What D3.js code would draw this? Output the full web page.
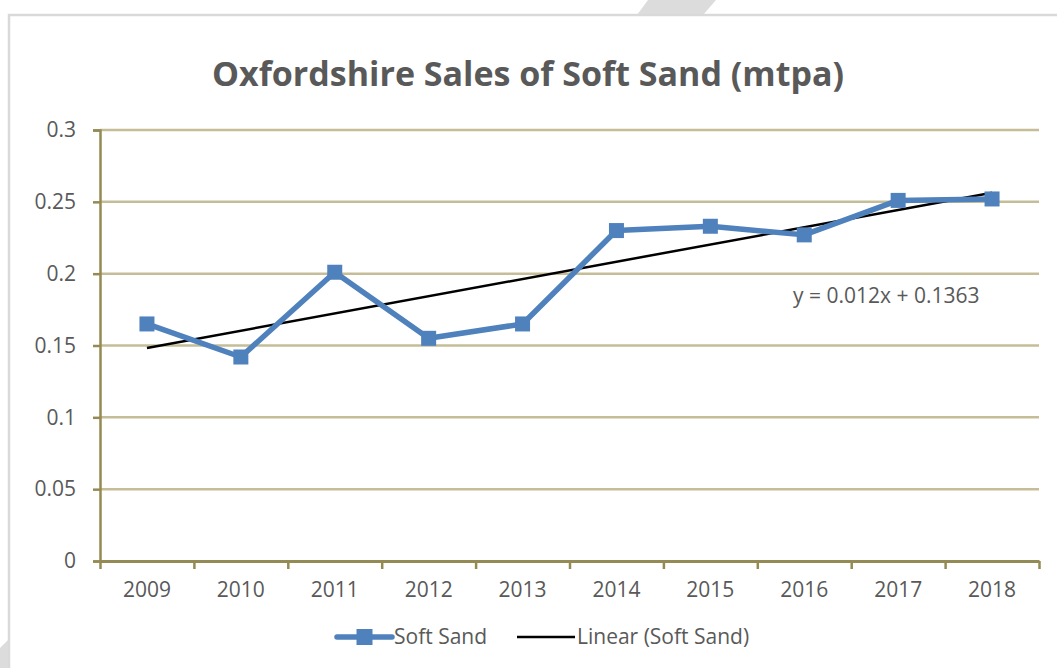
<!DOCTYPE html>
<html>
<head>
<meta charset="utf-8">
<script src="https://cdn.jsdelivr.net/npm/d3@7"></script>
<style>
  html, body { margin: 0; padding: 0; background: #fff; }
  svg { display: block; }
</style>
</head>
<body>
<div id="chart"></div>
<script>
// chart data
const years = ["2009", "2010", "2011", "2012", "2013", "2014", "2015", "2016", "2017", "2018"];
const softSand = [0.165, 0.142, 0.201, 0.155, 0.165, 0.230, 0.233, 0.227, 0.251, 0.252];
const yTicks = [0, 0.05, 0.1, 0.15, 0.2, 0.25, 0.3];
const trendSlope = 0.012;
const trendIntercept = 0.1363;
const trendLabel = "y = 0.012x + 0.1363";

const width = 1057;
const height = 668;
const margin = { top: 130, right: 18, bottom: 107, left: 100 };

const textColor = "#595959";
const gridColor = "#C4BD97";
const axisColor = "#948A54";
const lineColor = "#4F81BD";
const font = "'Open Sans', 'Liberation Sans', sans-serif";

const svg = d3.select("#chart").append("svg")
    .attr("width", width)
    .attr("height", height);

// page background bits outside the chart frame
svg.append("path")
    .attr("d", "M648,0 L716,0 L703,15 L637,15 Z")
    .attr("fill", "#dcdcdc");
svg.append("path")
    .attr("d", "M0,648 L8,640 L8,668 L0,668 Z")
    .attr("fill", "#dcdcdc");

// chart frame
svg.append("rect")
    .attr("x", 9)
    .attr("y", 15)
    .attr("width", width)
    .attr("height", height)
    .attr("fill", "#fff")
    .attr("stroke", "#d9d9d9")
    .attr("stroke-width", 2.5);

const x = d3.scaleBand()
    .domain(years)
    .range([margin.left, width - margin.right])
    .padding(0);

const xEdge = d3.scaleLinear()
    .domain([0, years.length])
    .range([margin.left, width - margin.right]);

const y = d3.scaleLinear()
    .domain([0, 0.3])
    .range([height - margin.bottom, margin.top]);

const cx = d => x(d) + x.bandwidth() / 2;

// gridlines
svg.append("g")
    .selectAll("line")
    .data(yTicks.filter(d => d > 0))
    .join("line")
    .attr("x1", margin.left)
    .attr("x2", width - margin.right)
    .attr("y1", d => y(d))
    .attr("y2", d => y(d))
    .attr("stroke", gridColor)
    .attr("stroke-width", 2.5);

// y axis
const yAxis = svg.append("g")
    .attr("transform", `translate(${margin.left},0)`)
    .call(d3.axisLeft(y).tickValues(yTicks).tickSize(7).tickPadding(17).tickFormat(d => String(d)));
yAxis.select(".domain").attr("stroke", axisColor).attr("stroke-width", 2.5);
yAxis.selectAll(".tick line").attr("stroke", axisColor).attr("stroke-width", 2.5);
yAxis.selectAll(".tick text")
    .attr("fill", textColor)
    .style("font-family", font)
    .style("font-size", "21px");

// x axis tick marks at category edges
const xTicks = svg.append("g")
    .attr("transform", `translate(0,${height - margin.bottom})`)
    .call(d3.axisBottom(xEdge).ticks(years.length).tickSize(8).tickSizeOuter(0).tickFormat(""));
xTicks.select(".domain").attr("stroke", axisColor).attr("stroke-width", 3);
xTicks.selectAll(".tick line").attr("stroke", axisColor).attr("stroke-width", 2.5);

// x axis labels
const xLabels = svg.append("g")
    .attr("transform", `translate(0,${height - margin.bottom})`)
    .call(d3.axisBottom(x).tickSize(0).tickPadding(21));
xLabels.select(".domain").remove();
xLabels.selectAll(".tick text")
    .attr("fill", textColor)
    .style("font-family", font)
    .style("font-size", "21px");

// trend line
const trendPts = [0, years.length - 1].map(i => ({ year: years[i], v: trendSlope * (i + 1) + trendIntercept }));
svg.append("path")
    .datum(trendPts)
    .attr("fill", "none")
    .attr("stroke", "#000")
    .attr("stroke-width", 2.5)
    .attr("d", d3.line().x(d => cx(d.year)).y(d => y(d.v)));

// data line
const series = years.map((yr, i) => ({ year: yr, v: softSand[i] }));
svg.append("path")
    .datum(series)
    .attr("fill", "none")
    .attr("stroke", lineColor)
    .attr("stroke-width", 5.5)
    .attr("stroke-linejoin", "round")
    .attr("d", d3.line().x(d => cx(d.year)).y(d => y(d.v)));

const mk = 15;
svg.append("g")
    .selectAll("rect")
    .data(series)
    .join("rect")
    .attr("x", d => cx(d.year) - mk / 2)
    .attr("y", d => y(d.v) - mk / 2)
    .attr("width", mk)
    .attr("height", mk)
    .attr("fill", lineColor);

// equation label
svg.append("text")
    .attr("x", 793)
    .attr("y", 303)
    .attr("fill", textColor)
    .style("font-family", font)
    .style("font-size", "21px")
    .text(trendLabel);

// title
svg.append("text")
    .attr("x", 528)
    .attr("y", 86)
    .attr("text-anchor", "middle")
    .attr("fill", textColor)
    .style("font-family", font)
    .style("font-size", "34px")
    .style("font-weight", "bold")
    .text("Oxfordshire Sales of Soft Sand (mtpa)");

// legend
const legY = 637;
const leg = svg.append("g");
leg.append("line")
    .attr("x1", 337).attr("x2", 392)
    .attr("y1", legY).attr("y2", legY)
    .attr("stroke", lineColor)
    .attr("stroke-width", 5.5)
    .attr("stroke-linecap", "round");
leg.append("rect")
    .attr("x", 364.5 - 8).attr("y", legY - 8)
    .attr("width", 16).attr("height", 16)
    .attr("fill", lineColor);
leg.append("text")
    .attr("x", 394).attr("y", legY)
    .attr("dy", "0.35em")
    .attr("fill", textColor)
    .style("font-family", font)
    .style("font-size", "21px")
    .text("Soft Sand");
leg.append("line")
    .attr("x1", 517).attr("x2", 575)
    .attr("y1", legY).attr("y2", legY)
    .attr("stroke", "#000")
    .attr("stroke-width", 2.5);
leg.append("text")
    .attr("x", 577).attr("y", legY)
    .attr("dy", "0.35em")
    .attr("fill", textColor)
    .style("font-family", font)
    .style("font-size", "21px")
    .text("Linear (Soft Sand)");
</script>
</body>
</html>
